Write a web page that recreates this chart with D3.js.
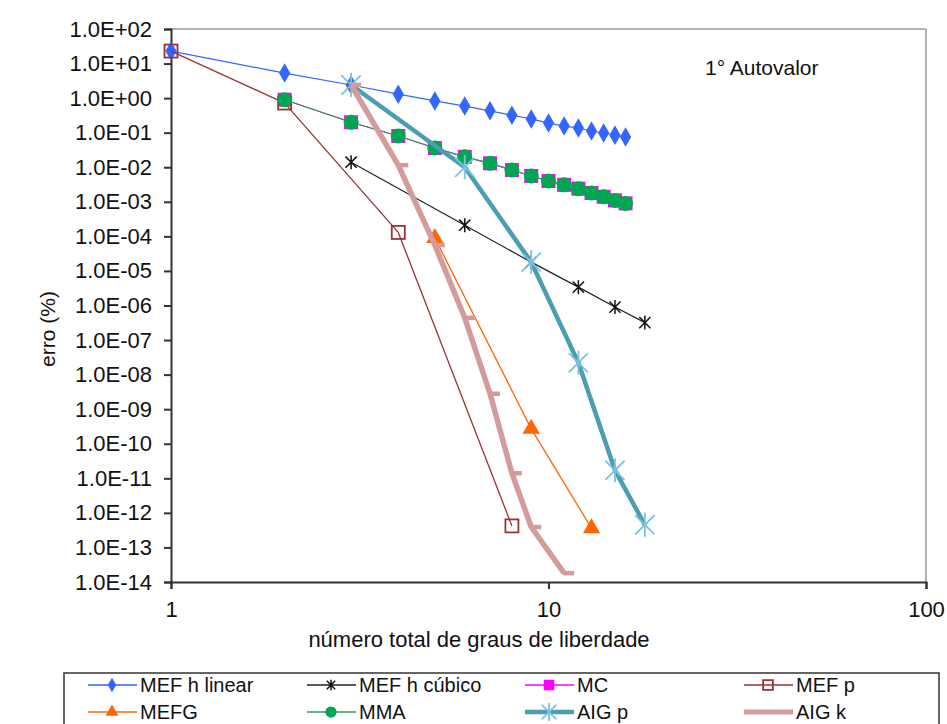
<!DOCTYPE html>
<html>
<head>
<meta charset="utf-8">
<script src="https://cdn.jsdelivr.net/npm/d3@7"></script>
<style>
  body { margin: 0; background: #fff; }
  svg { font-family: "Liberation Sans", Arial, sans-serif; }
</style>
</head>
<body>
<svg class="svg-canvas" width="947" height="724"></svg>
<script>
// data: [graus de liberdade, erro (%)]
var mefHLinear = [[1, 23], [2, 5.3], [3, 2.4], [4, 1.3], [5, 0.83], [6, 0.59], [7, 0.43], [8, 0.32],
  [9, 0.25], [10, 0.19], [11, 0.155], [12, 0.137], [13, 0.112], [14, 0.098], [15, 0.085], [16, 0.075]];
var mefHCubico = [[3, 0.014], [6, 2.1e-4], [9, 1.8e-5], [12, 3.4e-6], [15, 9e-7], [18, 3.2e-7]];
var mc = [[2, 0.9], [3, 0.2], [4, 0.08], [5, 0.036], [6, 0.02], [7, 0.013], [8, 0.0083], [9, 0.0056],
  [10, 0.004], [11, 0.0031], [12, 0.0024], [13, 0.0018], [14, 0.0014], [15, 0.0011], [16, 0.0009]];
var mefP = [[1, 23], [2, 0.72], [4, 1.3e-4], [8, 4.2e-13]];
var mefg = [[5, 9e-5], [9, 2.7e-10], [13, 3.6e-13]];
var mma = [[2, 0.9], [3, 0.2], [4, 0.08], [5, 0.036], [6, 0.02], [7, 0.013], [8, 0.0083], [9, 0.0056],
  [10, 0.004], [11, 0.0031], [12, 0.0024], [13, 0.0018], [14, 0.0014], [15, 0.0011], [16, 0.0009]];
var aigP = [[3, 2.4], [6, 0.01], [9, 1.8e-5], [12, 2.2e-8], [15, 1.7e-11], [18, 4.5e-13]];
var aigK = [[3, 2.4], [4, 0.0115], [5, 5.6e-5], [6, 4.4e-7], [7, 2.8e-9], [8, 1.4e-11], [9, 3.9e-13], [11, 1.8e-14]];

var xTicks = [1, 10, 100];
var yExponents = d3.range(-14, 3);

var series = [
  {name: "MEF h linear", data: mefHLinear, color: "#3366ff", width: 1.2, marker: "diamond", mcolor: "#3366ff"},
  {name: "MEF h cúbico", data: mefHCubico, color: "#222", width: 1.2, marker: "star", mcolor: "#111"},
  {name: "MC", data: mc, color: "#ff00ff", width: 1.2, marker: "square", mcolor: "#ff00ff"},
  {name: "MEF p", data: mefP, color: "#993333", width: 1.3, marker: "open", mcolor: "#993333"},
  {name: "MEFG", data: mefg, color: "#ff6600", width: 1.3, marker: "triangle", mcolor: "#ff6600"},
  {name: "MMA", data: mma, color: "#2e9a5e", width: 1.2, marker: "circle", mcolor: "#00a651"},
  {name: "AIG p", data: aigP, color: "#4a9db3", width: 4.5, marker: "bigstar", mcolor: "#7cc3dc"},
  {name: "AIG k", data: aigK, color: "#d39b9b", width: 5.5, marker: "dash", mcolor: "#d39b9b"}
];

var svg = d3.select(".svg-canvas");
var plotLeft = 171, plotRight = 926, plotTop = 29, plotBottom = 582;

var x = d3.scaleLog().domain([1, 100]).range([plotLeft, plotRight]);
var y = d3.scaleLog().domain([1e-14, 1e2]).range([plotBottom, plotTop]);

function sci(v) {
  var e = Math.round(Math.log10(v));
  return "1.0E" + (e < 0 ? "-" : "+") + (Math.abs(e) < 10 ? "0" : "") + Math.abs(e);
}

// frame
svg.append("line").attr("x1", plotLeft).attr("x2", plotRight).attr("y1", plotTop).attr("y2", plotTop)
  .attr("stroke", "#999").attr("stroke-width", 1.5);
svg.append("line").attr("x1", plotRight).attr("x2", plotRight).attr("y1", plotTop).attr("y2", plotBottom)
  .attr("stroke", "#999").attr("stroke-width", 1.5);

var yAxis = svg.append("g")
  .attr("transform", "translate(" + plotLeft + ",0)")
  .call(d3.axisLeft(y).tickValues(yExponents.map(function(e) { return Math.pow(10, e); }))
    .tickFormat(sci).tickSize(7).tickPadding(12));
var xAxis = svg.append("g")
  .attr("transform", "translate(0," + plotBottom + ")")
  .call(d3.axisBottom(x).tickValues(xTicks).tickFormat(d3.format("d")).tickSize(7).tickPadding(12));

[yAxis, xAxis].forEach(function(g) {
  g.select(".domain").attr("stroke", "#333").attr("stroke-width", 2);
  g.selectAll(".tick line").attr("stroke", "#333").attr("stroke-width", 2);
  g.selectAll("text").attr("font-size", "22px").attr("fill", "#111")
    .attr("font-family", "Liberation Sans, Arial, sans-serif");
});

svg.append("text").attr("x", 479).attr("y", 647).attr("text-anchor", "middle")
  .attr("font-size", "22px").attr("fill", "#111").text("número total de graus de liberdade");
svg.append("text").attr("transform", "translate(55,329) rotate(-90)").attr("text-anchor", "middle")
  .attr("font-size", "21px").attr("fill", "#111").text("erro (%)");
svg.append("text").attr("x", 705).attr("y", 75)
  .attr("font-size", "21px").attr("fill", "#111").text("1° Autovalor");

function drawMarker(g, s, px, py, scale) {
  var k = scale || 1, c = s.mcolor;
  if (s.marker === "diamond") {
    g.append("path").attr("d", d3.symbol(d3.symbolDiamond, 110 * k * k)())
      .attr("transform", "translate(" + px + "," + py + ")").attr("fill", c);
  } else if (s.marker === "square") {
    var a = 7 * k;
    g.append("rect").attr("x", px - a).attr("y", py - a).attr("width", 2 * a).attr("height", 2 * a).attr("fill", c);
  } else if (s.marker === "open") {
    var b = 6.5 * k;
    g.append("rect").attr("x", px - b).attr("y", py - b).attr("width", 2 * b).attr("height", 2 * b)
      .attr("fill", "none").attr("stroke", c).attr("stroke-width", 1.8);
  } else if (s.marker === "triangle") {
    g.append("path").attr("d", d3.symbol(d3.symbolTriangle, 130 * k * k)())
      .attr("transform", "translate(" + px + "," + py + ")").attr("fill", c);
  } else if (s.marker === "circle") {
    g.append("circle").attr("cx", px).attr("cy", py).attr("r", 7.5 * k).attr("fill", c);
  } else if (s.marker === "star" || s.marker === "bigstar") {
    var r = (s.marker === "star" ? 7 : 12) * k;
    var sw = s.marker === "star" ? 1.5 : 1.8;
    g.append("path").attr("d",
      "M" + (px - r * 0.8) + "," + (py - r * 0.8) + "L" + (px + r * 0.8) + "," + (py + r * 0.8) +
      "M" + (px - r * 0.8) + "," + (py + r * 0.8) + "L" + (px + r * 0.8) + "," + (py - r * 0.8) +
      "M" + px + "," + (py - r) + "L" + px + "," + (py + r))
      .attr("stroke", c).attr("stroke-width", sw).attr("fill", "none");
  } else if (s.marker === "dash") {
    g.append("line").attr("x1", px - 1).attr("x2", px + 10 * k).attr("y1", py).attr("y2", py)
      .attr("stroke", c).attr("stroke-width", 4.5);
  }
}

var line = d3.line().x(function(d) { return x(d[0]); }).y(function(d) { return y(d[1]); });

series.forEach(function(s) {
  var g = svg.append("g");
  g.append("path").datum(s.data).attr("d", line)
    .attr("fill", "none").attr("stroke", s.color).attr("stroke-width", s.width)
    .attr("stroke-linejoin", "round");
  s.data.forEach(function(d) { drawMarker(g, s, x(d[0]), y(d[1])); });
});

// legend
var lg = svg.append("g");
lg.append("rect").attr("x", 64).attr("y", 673).attr("width", 875).attr("height", 70)
  .attr("fill", "#fff").attr("stroke", "#333").attr("stroke-width", 1.5);
var colX = [88, 307, 525, 744];
var rowY = [685, 712];
series.forEach(function(s, i) {
  var cx = colX[i % 4], cy = rowY[Math.floor(i / 4)];
  var lw = s.width > 3 ? (s.name === "AIG k" ? 5 : 4.5) : 1.5;
  lg.append("line").attr("x1", cx).attr("x2", cx + 49).attr("y1", cy).attr("y2", cy)
    .attr("stroke", s.color).attr("stroke-width", lw);
  if (s.marker !== "dash") drawMarker(lg, s, cx + 24, cy, 0.75);
  lg.append("text").attr("x", cx + 52).attr("y", cy + 7).attr("font-size", "20px")
    .attr("fill", "#111").text(s.name);
});
</script>
</body>
</html>
